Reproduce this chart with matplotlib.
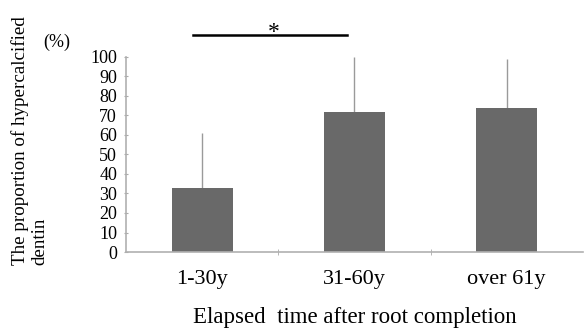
import matplotlib
matplotlib.use("Agg")
import matplotlib.pyplot as plt
import numpy as np

categories = ["1-30y", "31-60y", "over 61y"]
means = [33, 72, 74]
sd_upper = [28, 28, 25]
yticks = [0, 10, 20, 30, 40, 50, 60, 70, 80, 90, 100]
sig_pair = (0, 1)
sig_label = "*"

plt.rcParams["font.family"] = ["Liberation Serif", "DejaVu Serif"]

fig = plt.figure(figsize=(5.84, 3.29), dpi=100)
ax = fig.add_axes([0.216, 0.234, 0.782, 0.593])

x = np.arange(len(categories))
ax.bar(x, means, width=0.4, color="#696969", zorder=2)
ax.errorbar(x, means, yerr=[np.zeros(len(means)), sd_upper], fmt="none",
            ecolor="#9a9a9a", elinewidth=1.0, capsize=0, zorder=1)

ax.set_xlim(-0.5, len(categories) - 0.5)
ax.set_ylim(0, 100)
ax.set_yticks(yticks)
ax.set_yticklabels([str(v) for v in yticks], fontsize=13)
ax.set_xticks(x)
ax.set_xticklabels(categories, fontsize=16)
ax.set_xticks(np.arange(len(categories) - 1) + 0.5, minor=True)
ax.tick_params(axis="x", which="major", length=0, pad=13)
ax.tick_params(axis="x", which="minor", length=4, direction="inout", color="#aaaaaa")
ax.tick_params(axis="y", length=3, direction="inout", color="#aaaaaa", pad=5)

for s in ["top", "right"]:
    ax.spines[s].set_visible(False)
for s in ["left", "bottom"]:
    ax.spines[s].set_color("#b0b0b0")
    ax.spines[s].set_linewidth(1.2)

ax.set_xlabel("Elapsed  time after root completion", fontsize=16.5, labelpad=13)

fig.text(0.034, 0.195, "The proportion of hypercalcified", rotation=90,
         fontsize=13.7, ha="center", va="bottom")
fig.text(0.068, 0.195, "dentin", rotation=90,
         fontsize=13.7, ha="center", va="bottom")
fig.text(0.098, 0.872, "(%)", fontsize=13, ha="center", va="center")

# significance bar
x0, x1 = sig_pair
ax.plot([x0 - 0.06, x1 - 0.05], [111, 111], color="black", lw=1.8, clip_on=False)
ax.text((x0 + x1) / 2 - 0.03, 112.5, sig_label, ha="center", va="center", fontsize=17)

fig.savefig("out.png", dpi=100)
